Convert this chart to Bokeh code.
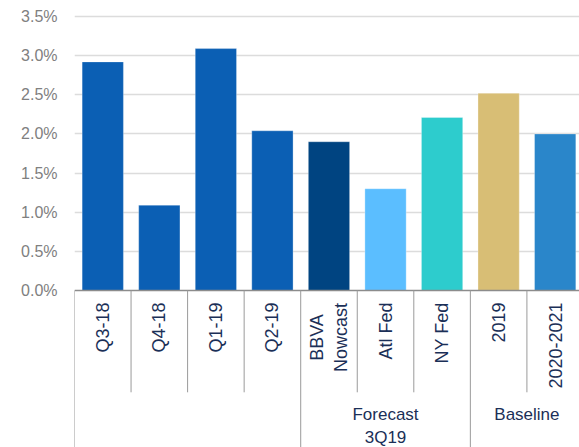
import math
from bokeh.plotting import figure
from bokeh.models import Range1d, FixedTicker, PrintfTickFormatter, ColumnDataSource
from bokeh.core.properties import value
from bokeh.embed import file_html
from bokeh.resources import INLINE

categories = ["Q3-18", "Q4-18", "Q1-19", "Q2-19", "BBVA\nNowcast", "Atl Fed", "NY Fed", "2019", "2020-2021"]
values = [2.92, 1.09, 3.09, 2.04, 1.90, 1.30, 2.21, 2.52, 2.00]
colors = ["#0B5FB4", "#0B5FB4", "#0B5FB4", "#0B5FB4", "#004481", "#5BBEFF", "#2DCCCD", "#D8BE75", "#2A86CA"]
y_ticks = [0.0, 0.5, 1.0, 1.5, 2.0, 2.5, 3.0, 3.5]
groups = [("", 0, 4), ("Forecast\n3Q19", 4, 7), ("Baseline", 7, 9)]

FONT = "Liberation Sans"
LABEL_COLOR = "#1B2F57"
LINE_COLOR = "#9A9A9A"

y_bottom = -2.005
y_top = 3.704
x_end = 8.93
label_top = -0.153
sep_bottom = -1.30

p = figure(width=579, height=447, output_backend="svg", toolbar_location=None,
           x_range=Range1d(0, x_end), y_range=Range1d(y_bottom, y_top),
           min_border_left=74, min_border_right=0, min_border_top=0, min_border_bottom=0)
p.xaxis.visible = False
p.xgrid.visible = False
p.outline_line_color = None
p.background_fill_color = "white"
p.border_fill_color = "white"

ya = p.yaxis[0]
ya.ticker = FixedTicker(ticks=y_ticks)
ya.formatter = PrintfTickFormatter(format="%.1f%%")
ya.axis_line_color = None
ya.major_tick_line_color = None
ya.minor_tick_line_color = None
ya.major_tick_out = 0
ya.major_tick_in = 0
ya.major_label_standoff = 17
ya.major_label_text_font = FONT
ya.major_label_text_font_size = "16px"
ya.major_label_text_color = "#808080"

p.ygrid.ticker = FixedTicker(ticks=y_ticks[1:])
p.ygrid.grid_line_color = "#DCDCDC"
p.ygrid.grid_line_width = 1.4

xs = [i + 0.5 for i in range(len(categories))]
src = ColumnDataSource(dict(x=xs, top=values, color=colors))
p.vbar(x="x", top="top", bottom=0, width=0.73, fill_color="color", line_color="white",
       line_width=0.6, line_alpha=0.5, source=src)

# axis line at zero
p.segment(x0=[0], y0=[0], x1=[x_end], y1=[0], line_color="#8C8C8C", line_width=1.3)

# category separators
bounds = list(range(len(categories) + 1))
group_bounds = [g[1] for g in groups]
sx, sy1 = [], []
for b in bounds:
    sx.append(b)
    sy1.append(y_bottom if b in group_bounds else sep_bottom)
p.segment(x0=sx, y0=[0] * len(sx), x1=sx, y1=sy1, line_color=LINE_COLOR, line_width=1)

# category labels (rotated)
for i, c in enumerate(categories):
    lines = c.split("\n")
    if len(lines) == 1:
        p.text(x=[xs[i]], y=[label_top], text=[c], angle=math.pi / 2,
               text_align="right", text_baseline="middle",
               text_font=value(FONT), text_font_size="18px", text_color=LABEL_COLOR)
    else:
        n = len(lines)
        center_y = -0.60
        for j, ln in enumerate(lines):
            off = (j - (n - 1) / 2) * 0.41
            p.text(x=[xs[i] + off], y=[center_y], text=[ln], angle=math.pi / 2,
                   text_align="center", text_baseline="middle",
                   text_font=value(FONT), text_font_size="18px", text_color=LABEL_COLOR)

# group labels
for name, a, b in groups:
    if not name:
        continue
    cx = (a + b) / 2
    for j, ln in enumerate(name.split("\n")):
        p.text(x=[cx], y=[-1.58 - j * 0.294], text=[ln], text_align="center", text_baseline="middle",
               text_font=value(FONT), text_font_size="17px", text_color=LABEL_COLOR)

open("out.html", "w").write(file_html(p, INLINE))
